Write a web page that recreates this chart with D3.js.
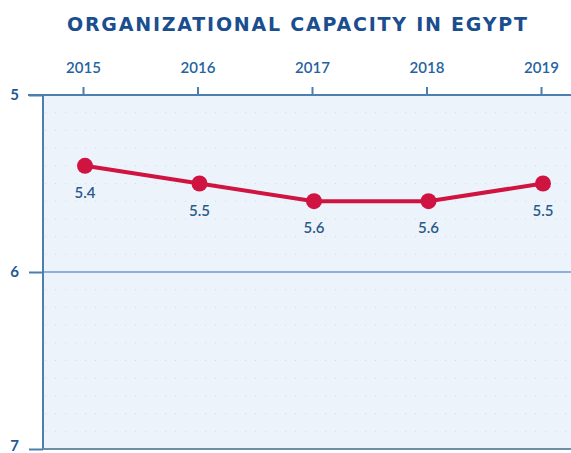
<!DOCTYPE html>
<html><head><meta charset="utf-8">
<script src="https://cdn.jsdelivr.net/npm/d3@7"></script>
<style>body{margin:0;background:#fff}svg{display:block}</style>
</head><body>
<script>
const title = "ORGANIZATIONAL CAPACITY IN EGYPT";
const years = ["2015","2016","2017","2018","2019"];
const values = [5.4, 5.5, 5.6, 5.6, 5.5];
const valueLabels = ["5.4","5.5","5.6","5.6","5.5"];
const yTicks = [5, 6, 7];

(function () {
const W = 571, H = 453;
const mL = 43, mR = 571, mT = 95, mB = 449;
const svg = d3.select("body").append("svg").attr("width", W).attr("height", H);

const x = d3.scalePoint().domain(years).range([83, 541]);
const y = d3.scaleLinear().domain([5, 7]).range([mT, mB]);

svg.append("rect").attr("x", mL).attr("y", mT).attr("width", mR - mL).attr("height", mB - mT).attr("fill", "#edf3fb");

// faint dotted grid
const grid = d3.range(5.1, 7.0, 0.1).filter(v => Math.abs(v - 6) > 0.01);
svg.append("g").selectAll("line").data(grid).join("line")
  .attr("x1", mL + 2).attr("x2", mR).attr("y1", d => y(d)).attr("y2", d => y(d))
  .attr("stroke", "#cfdbea").attr("stroke-width", 1).attr("stroke-dasharray", "1,9");

// line at 6
svg.append("line").attr("x1", mL).attr("x2", mR).attr("y1", y(6)).attr("y2", y(6))
  .attr("stroke", "#6d9bd0").attr("stroke-width", 1.5);

const axisCol = "#4d7eae";
// top axis
const xAxis = svg.append("g").attr("transform", `translate(0,${mT})`)
  .call(d3.axisTop(x).tickSize(8).tickPadding(14));
xAxis.select(".domain").remove();
xAxis.append("line").attr("x1", 28).attr("x2", mR).attr("y1", 0).attr("y2", 0).attr("stroke", axisCol).attr("stroke-width", 2);
xAxis.selectAll(".tick line").attr("stroke", axisCol).attr("stroke-width", 2);
xAxis.selectAll(".tick text").attr("fill", "#2563a0").attr("font-family", "Lato, sans-serif").attr("font-size", 15).attr("font-weight", 600);

// left axis
const yAxis = svg.append("g").attr("transform", `translate(${mL},0)`)
  .call(d3.axisLeft(y).tickValues(yTicks).tickFormat(d3.format("d")).tickSize(14).tickPadding(10));
yAxis.select(".domain").remove();
yAxis.append("line").attr("x1", 0).attr("x2", 0).attr("y1", mT).attr("y2", mB).attr("stroke", axisCol).attr("stroke-width", 2);
yAxis.selectAll(".tick line").attr("stroke", axisCol).attr("stroke-width", 2);
yAxis.selectAll(".tick text").attr("fill", "#1f5793").attr("font-family", "Lato, sans-serif").attr("font-size", 15).attr("font-weight", "bold")
  .attr("dy", d => d === 7 ? "0.1em" : "0.32em");

// bottom line
svg.append("line").attr("x1", mL).attr("x2", mR).attr("y1", mB).attr("y2", mB).attr("stroke", "#6f8fa8").attr("stroke-width", 2);

const red = "#d01442";
svg.append("path").datum(values.map((v, i) => [years[i], v]))
  .attr("d", d3.line().x(d => x(d[0]) + 2).y(d => y(d[1])))
  .attr("fill", "none").attr("stroke", red).attr("stroke-width", 4);
svg.append("g").selectAll("circle").data(values).join("circle")
  .attr("cx", (d, i) => x(years[i]) + 2).attr("cy", d => y(d)).attr("r", 8).attr("fill", red);
svg.append("g").selectAll("text").data(values).join("text")
  .attr("x", (d, i) => x(years[i]) + 2).attr("y", d => y(d) + 32)
  .attr("text-anchor", "middle").attr("fill", "#2a5a8a").attr("font-family", "Lato, sans-serif").attr("font-size", 15).attr("font-weight", 600)
  .text((d, i) => valueLabels[i]);

const t = svg.append("text").attr("x", 67).attr("y", 31)
  .attr("fill", "#1a4e8e")
  .style("font", "bold 19px 'DejaVu Sans', Verdana, sans-serif")
  .text(title);
const len = t.node().getComputedTextLength();
const ls = Math.max(-1, (460 - len) / (title.length - 1));
t.style("letter-spacing", ls + "px");
})();
</script>
</body></html>
